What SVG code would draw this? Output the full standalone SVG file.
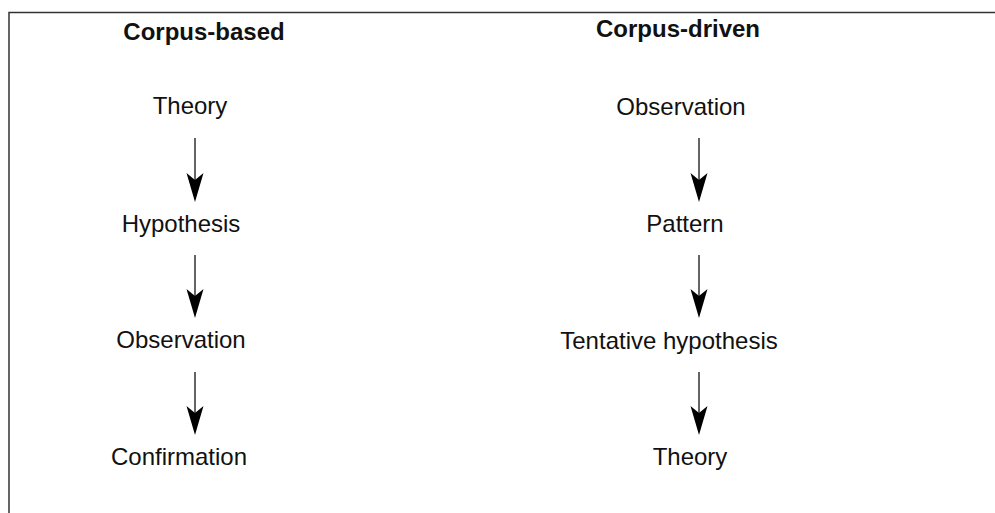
<svg xmlns="http://www.w3.org/2000/svg" width="995" height="513" viewBox="0 0 995 513">
<style>
text{font-family:"Liberation Sans",Arial,Helvetica,sans-serif;font-size:24px;fill:#111;text-anchor:middle}
.title{font-weight:bold}
.conn line{stroke:#111;stroke-width:1.3}
.conn path{fill:#000}
</style>
<defs>
<path id="head" d="M0,0 L-8.5,-29 L0,-22 L8.5,-29 Z"/>
</defs>
<rect width="995" height="513" fill="#fff"/>
<path d="M9,513 V12.5 H995" fill="none" stroke="#333" stroke-width="1.5"/>
<g id="title-left"><text class="title" x="204" y="40">Corpus-based</text></g>
<g id="title-right"><text class="title" x="678" y="37">Corpus-driven</text></g>
<g id="l-theory"><text x="190" y="114">Theory</text></g>
<g id="l-hypothesis"><text x="181" y="232">Hypothesis</text></g>
<g id="l-observation"><text x="181" y="348">Observation</text></g>
<g id="l-confirmation"><text x="179" y="465">Confirmation</text></g>
<g id="r-observation"><text x="681" y="115">Observation</text></g>
<g id="r-pattern"><text x="685" y="232">Pattern</text></g>
<g id="r-tentative"><text x="669" y="349">Tentative hypothesis</text></g>
<g id="r-theory"><text x="690" y="465">Theory</text></g>
<g id="connectors" class="conn">
<line x1="195" y1="138" x2="195" y2="181"/><use href="#head" x="195" y="202"/>
<line x1="195" y1="255" x2="195" y2="297"/><use href="#head" x="195" y="318"/>
<line x1="195" y1="372" x2="195" y2="414"/><use href="#head" x="195" y="435"/>
<line x1="699" y1="138" x2="699" y2="181"/><use href="#head" x="699" y="202"/>
<line x1="699" y1="255" x2="699" y2="297"/><use href="#head" x="699" y="318"/>
<line x1="699" y1="372" x2="699" y2="414"/><use href="#head" x="699" y="435"/>
</g>
</svg>
